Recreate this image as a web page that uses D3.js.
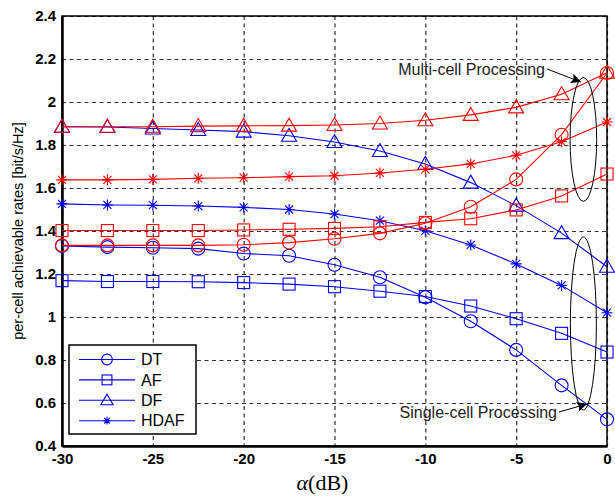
<!DOCTYPE html>
<html>
<head>
<meta charset="utf-8">
<script src="https://cdn.jsdelivr.net/npm/d3@7"></script>
<style>
  body { margin: 0; background: #fff; }
  text { font-family: "Liberation Sans", Arial, sans-serif; }
</style>
</head>
<body>
<div id="chart"></div>
<script>
// x values (dB)
var alpha = [-30, -27.5, -25, -22.5, -20, -17.5, -15, -12.5, -10, -7.5, -5, -2.5, 0];

// Single-cell processing (blue)
var dtSingle   = [1.33, 1.325, 1.322, 1.318, 1.295, 1.285, 1.243, 1.185, 1.092, 0.98, 0.847, 0.682, 0.524];
var afSingle   = [1.169, 1.165, 1.165, 1.164, 1.16, 1.153, 1.141, 1.12, 1.095, 1.051, 0.992, 0.924, 0.837];
var dfSingle   = [1.885, 1.884, 1.877, 1.87, 1.862, 1.843, 1.814, 1.772, 1.712, 1.625, 1.518, 1.39, 1.234];
var hdafSingle = [1.526, 1.521, 1.52, 1.516, 1.51, 1.5, 1.479, 1.448, 1.401, 1.335, 1.247, 1.147, 1.02];

// Multi-cell processing (red)
var dtMulti   = [1.333, 1.333, 1.333, 1.333, 1.336, 1.346, 1.364, 1.389, 1.436, 1.513, 1.64, 1.848, 2.135];
var afMulti   = [1.402, 1.402, 1.402, 1.402, 1.405, 1.408, 1.412, 1.42, 1.44, 1.457, 1.498, 1.563, 1.665];
var dfMulti   = [1.885, 1.885, 1.885, 1.888, 1.889, 1.89, 1.893, 1.9, 1.915, 1.94, 1.975, 2.036, 2.136];
var hdafMulti = [1.638, 1.638, 1.64, 1.645, 1.648, 1.653, 1.657, 1.67, 1.687, 1.712, 1.752, 1.815, 1.907];

var xTicks = [-30, -25, -20, -15, -10, -5, 0];
var yTicks = [0.4, 0.6, 0.8, 1, 1.2, 1.4, 1.6, 1.8, 2, 2.2, 2.4];
var legendNames = ["DT", "AF", "DF", "HDAF"];

var W = 615, H = 498,
    margin = { left: 62, top: 16, right: 8, bottom: 52 },
    width = W - margin.left - margin.right,
    height = H - margin.top - margin.bottom;

var svg = d3.select("#chart").append("svg")
    .attr("width", W)
    .attr("height", H);

var x = d3.scaleLinear().domain([-30, 0]).range([0, width]);
var y = d3.scaleLinear().domain([0.4, 2.4]).range([height, 0]);

var g = svg.append("g")
    .attr("transform", "translate(" + margin.left + "," + margin.top + ")");

// grid
g.append("g")
    .call(d3.axisBottom(x).tickValues(xTicks).tickSize(height).tickFormat(""))
    .call(function(s) {
        s.select(".domain").remove();
        s.selectAll("line").attr("stroke", "#333").attr("stroke-width", 1.2).attr("stroke-dasharray", "4,3.5");
    });
g.append("g")
    .call(d3.axisLeft(y).tickValues(yTicks).tickSize(-width).tickFormat(""))
    .call(function(s) {
        s.select(".domain").remove();
        s.selectAll("line").attr("stroke", "#333").attr("stroke-width", 1.2).attr("stroke-dasharray", "4,3.5");
    });

// frame
g.append("rect")
    .attr("width", width).attr("height", height)
    .attr("fill", "none").attr("stroke", "#000").attr("stroke-width", 1.5);

// axes
var xAxis = g.append("g")
    .attr("transform", "translate(0," + height + ")")
    .call(d3.axisBottom(x).tickValues(xTicks).tickSize(0).tickPadding(6)
        .tickFormat(function(d) { return d; }));
var yAxis = g.append("g")
    .call(d3.axisLeft(y).tickValues(yTicks).tickSize(0).tickPadding(6)
        .tickFormat(function(d) { return d; }));
[xAxis, yAxis].forEach(function(a) {
    a.select(".domain").attr("stroke", "#000").attr("stroke-width", 2.5);
    a.selectAll("text")
        .attr("font-size", 15).attr("font-weight", "bold").attr("fill", "#000");
});
xAxis.selectAll("text").attr("dy", "0.8em");

// marker shapes (k scales them down for the legend)
var markers = {
    DT: function(s, k) { s.append("circle").attr("r", 6.5 * k); },
    AF: function(s, k) { s.append("rect").attr("x", -6 * k).attr("y", -6 * k).attr("width", 12 * k).attr("height", 12 * k); },
    DF: function(s, k) { s.append("path").attr("d", "M0," + (-7.5 * k) + "L" + (7.5 * k) + "," + (5.5 * k) + "L" + (-7.5 * k) + "," + (5.5 * k) + "Z"); },
    HDAF: function(s, k) {
        var a = 5.5 * k, b = 4 * k;
        s.append("path").attr("d", "M0," + -a + "V" + a + "M" + -a + ",0H" + a +
            "M" + -b + "," + -b + "L" + b + "," + b + "M" + -b + "," + b + "L" + b + "," + -b);
    }
};

var series = [
    { name: "DT", color: "#0000ff", values: dtSingle },
    { name: "AF", color: "#0000ff", values: afSingle },
    { name: "DF", color: "#0000ff", values: dfSingle },
    { name: "HDAF", color: "#0000ff", values: hdafSingle },
    { name: "DT", color: "#ff0000", values: dtMulti },
    { name: "AF", color: "#ff0000", values: afMulti },
    { name: "DF", color: "#ff0000", values: dfMulti },
    { name: "HDAF", color: "#ff0000", values: hdafMulti }
];

var line = d3.line()
    .x(function(d, i) { return x(alpha[i]); })
    .y(function(d) { return y(d); });

series.forEach(function(s) {
    var sg = g.append("g");
    sg.append("path")
        .attr("d", line(s.values))
        .attr("fill", "none").attr("stroke", s.color).attr("stroke-width", 1.1);
    sg.selectAll("g.pt")
        .data(s.values)
        .enter().append("g")
        .attr("class", "pt")
        .attr("transform", function(d, i) { return "translate(" + x(alpha[i]) + "," + y(d) + ")"; })
        .attr("fill", "none").attr("stroke", s.color).attr("stroke-width", 1.1)
        .each(function() { markers[s.name](d3.select(this), 1); });
});

// annotations: ellipses
function ellipse(cx, cy, rx, ry) {
    g.append("ellipse")
        .attr("cx", x(cx)).attr("cy", y(cy))
        .attr("rx", rx).attr("ry", Math.abs(y(cy + ry) - y(cy)))
        .attr("fill", "none").attr("stroke", "#000").attr("stroke-width", 1);
}
ellipse(-1.3, 1.826, 13.3, 0.288);
ellipse(-1.3, 0.97, 13, 0.402);

// arrows with labels
svg.append("defs").append("marker")
    .attr("id", "arrow")
    .attr("viewBox", "0 0 10 10")
    .attr("refX", 10).attr("refY", 5)
    .attr("markerUnits", "userSpaceOnUse")
    .attr("markerWidth", 15).attr("markerHeight", 10)
    .attr("orient", "auto")
    .append("path").attr("d", "M0,0L10,5L0,10L2,5Z").attr("fill", "#000");

function callout(label, tx, ty, ax, ay) {
    svg.append("text")
        .attr("x", tx).attr("y", ty)
        .attr("text-anchor", "end")
        .attr("font-size", 16).attr("fill", "#222")
        .text(label);
    svg.append("line")
        .attr("x1", tx + 2).attr("y1", ty - 6)
        .attr("x2", ax).attr("y2", ay)
        .attr("stroke", "#000").attr("stroke-width", 1)
        .attr("marker-end", "url(#arrow)");
}
callout("Multi-cell Processing", 545, 75, 581, 82);
callout("Single-cell Processing", 557, 418, 587, 404);

// legend
var lg = g.append("g").attr("transform", "translate(7," + (height - 101) + ")");
lg.append("rect")
    .attr("width", 127).attr("height", 89)
    .attr("fill", "#fff").attr("stroke", "#000").attr("stroke-width", 1.5);
legendNames.forEach(function(n, i) {
    var row = lg.append("g").attr("transform", "translate(0," + (14.5 + i * 20.4) + ")");
    row.append("line").attr("x1", 10).attr("x2", 66)
        .attr("stroke", "#0000ff").attr("stroke-width", 1.1);
    var m = row.append("g").attr("transform", "translate(38,0)")
        .attr("fill", "none").attr("stroke", "#0000ff").attr("stroke-width", 1.1);
    markers[n](m, n === "HDAF" ? 0.7 : 0.82);
    row.append("text").attr("x", 72).attr("dy", "0.36em")
        .attr("font-size", 16).attr("fill", "#000").text(n);
});

// axis labels
svg.append("text")
    .attr("transform", "translate(23," + (margin.top + height / 2) + ") rotate(-90)")
    .attr("text-anchor", "middle")
    .attr("font-size", 14.5).attr("fill", "#000")
    .text("per-cell achievable rates [bit/s/Hz]");

var xl = svg.append("text")
    .attr("x", margin.left + width / 2 - 12).attr("y", 490)
    .attr("text-anchor", "middle")
    .style("font-family", "'Liberation Serif', 'DejaVu Serif', serif")
    .attr("font-size", 22).attr("fill", "#000");
xl.append("tspan").attr("font-style", "italic").text("α");
xl.append("tspan").text("(dB)");
</script>
</body>
</html>
